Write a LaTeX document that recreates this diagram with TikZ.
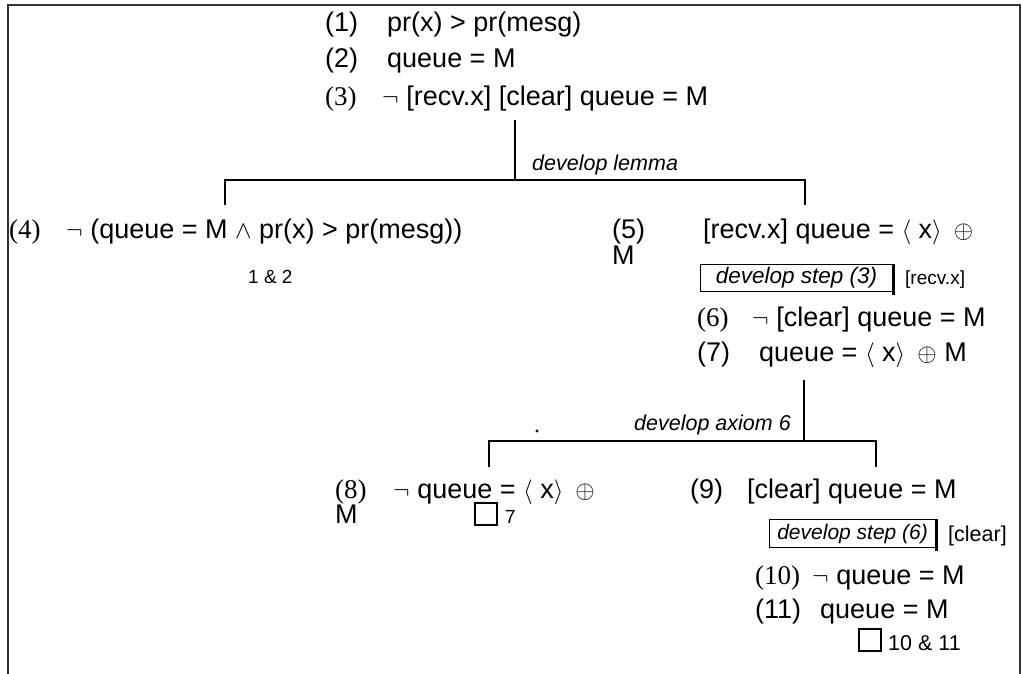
\documentclass[tikz,border=0pt]{standalone}
\usepackage{fontspec}
\setmainfont{Liberation Sans}
\newfontfamily\serifnum{Liberation Serif}
\tikzset{
  lab/.style={anchor=base west, inner sep=0pt, font=\fontsize{27}{31}\selectfont},
  slab/.style={anchor=base west, inner sep=0pt, font=\serifnum\fontsize{27}{31}\selectfont},
  fml/.style={anchor=base west, inner sep=0pt, font=\fontsize{27}{31}\selectfont},
  rulename/.style={anchor=base west, inner sep=0pt, font=\itshape\fontsize{21.5}{25}\selectfont},
  tag/.style={anchor=base west, inner sep=0pt, font=\fontsize{19}{23}\selectfont},
  bigtag/.style={anchor=base west, inner sep=0pt, font=\fontsize{21.5}{25}\selectfont},
  stepbox/.style={draw, line width=1.2pt, anchor=north west, inner sep=0pt,
    font=\itshape\fontsize{22.5}{26}\selectfont},
  conn/.style={line width=2.6pt},
  frameline/.style={line width=2pt, black!80},
  qed/.style={draw, line width=2pt, anchor=north west, minimum size=22pt, inner sep=0pt},
}
\begin{document}
\begin{tikzpicture}[x=1pt,y=-1pt]
\useasboundingbox (0,0) rectangle (1022,674);
% open frame
\draw[frameline] (8,674) -- (8,5) -- (1020,5) -- (1020,674);

% premises
\node[lab]  (l1) at (325,32)  {(1)};
\node[fml]  (f1) at (387,32)  {pr(x) > pr(mesg)};
\node[lab]  (l2) at (325,68)  {(2)};
\node[fml]  (f2) at (387,68)  {queue = M};
\node[slab] (l3) at (325,106) {(3)};
\node[fml]  (f3) at (382,106) {$\neg$ [recv.x] [clear] queue = M};

% first split
\coordinate (s1) at (515,120);
\coordinate (j1) at (515,180);
\coordinate (j1l) at (225,180);
\coordinate (j1r) at (805,180);
\coordinate (e4) at (225,205);
\coordinate (e5) at (805,205);
\node[rulename] (r1) at (532,170) {develop lemma};
\draw[conn] (s1) -- (j1);
\draw[conn] (e4) -- (j1l) -- (j1r) -- (e5);

% left branch
\node[slab] (l4) at (9,238)  {(4)};
\node[fml]  (f4) at (66,238) {$\neg$ (queue = M $\wedge$ pr(x) > pr(mesg))};
\node[tag]  (c4) at (248,283) {1 \& 2};

% right branch
\node[lab] (l5) at (612,238) {(5)};
\node[fml] (f5) at (703,238) {[recv.x] queue = $\langle$ x$\rangle$\ \,$\oplus$};
\node[lab] (m5) at (612,264) {M};
\node[stepbox, minimum width=192pt, minimum height=27pt] (b3) at (700,264) {develop step (3)\hspace{12pt}};
\draw[line width=3pt] (b3.north east) -- ([yshift=-3pt]b3.south east);
\node[tag] (t3) at (905,284) {[recv.x]};
\node[slab] (l6) at (697,326) {(6)};
\node[fml]  (f6) at (752,326) {$\neg$ [clear] queue = M};
\node[lab]  (l7) at (697,361) {(7)};
\node[fml]  (f7) at (759,361) {queue = $\langle$ x$\rangle$\ \,$\oplus$ M};

% second split
\coordinate (s2) at (804,380);
\coordinate (j2) at (804,441);
\coordinate (j2l) at (489,441);
\coordinate (j2r) at (876,441);
\coordinate (e8) at (489,467);
\coordinate (e9) at (876,467);
\node[rulename] (r2) at (634,430) {develop axiom 6};
\fill (537,431) circle (1.6pt);
\draw[conn] (s2) -- (j2);
\draw[conn] (e8) -- (j2l) -- (j2r) -- (e9);

% branch (8)
\node[slab] (l8) at (335,498) {(8)};
\node[fml]  (f8) at (393,498) {$\neg$ queue = $\langle$ x$\rangle$\ \,$\oplus$};
\node[lab]  (m8) at (335,523) {M};
\node[qed]  (q8) at (474,502) {};
\node[tag]  (c8) at (505,523) {7};

% branch (9)
\node[lab] (l9) at (690,498) {(9)};
\node[fml] (f9) at (747,498) {[clear] queue = M};
\node[stepbox, minimum width=166pt, minimum height=28pt, font=\itshape\fontsize{21}{25}\selectfont]
  (b6) at (769,519) {develop step (6)\hspace{4pt}};
\draw[line width=3pt] (b6.north east) -- ([yshift=-3pt]b6.south east);
\node[bigtag] (t6) at (948,541) {[clear]};
\node[slab] (l10) at (755,584) {(10)};
\node[fml]  (f10) at (812,584) {$\neg$ queue = M};
\node[lab]  (l11) at (755,618) {(11)};
\node[fml]  (f11) at (820,618) {queue = M};
\node[qed]  (q11) at (858,628) {};
\node[bigtag] (c11) at (888,650) {10 \& 11};
\end{tikzpicture}
\end{document}
